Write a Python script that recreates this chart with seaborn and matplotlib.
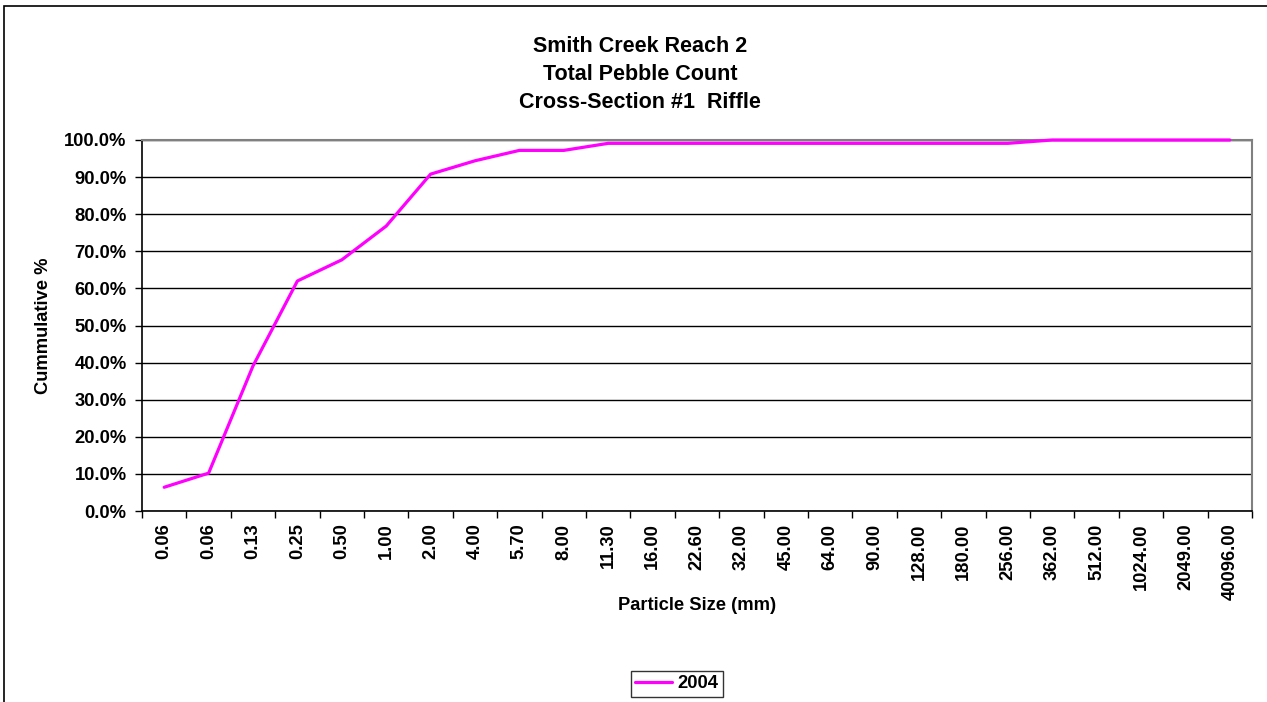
import numpy as np
import pandas as pd
import matplotlib
matplotlib.use("Agg")
import matplotlib.pyplot as plt
import seaborn as sns
from matplotlib.patches import Rectangle

# ---- data ----
size_labels = ["0.06", "0.06", "0.13", "0.25", "0.50", "1.00", "2.00", "4.00", "5.70", "8.00",
               "11.30", "16.00", "22.60", "32.00", "45.00", "64.00", "90.00", "128.00", "180.00",
               "256.00", "362.00", "512.00", "1024.00", "2049.00", "40096.00"]
cumulative_pct = [6.4, 10.2, 39.1, 62.0, 67.7, 76.8, 90.8, 94.4, 97.2, 97.2,
                  99.1, 99.1, 99.1, 99.1, 99.1, 99.1, 99.1, 99.1, 99.1, 99.1,
                  100.0, 100.0, 100.0, 100.0, 100.0]
series_name = "2004"
title_lines = ["Smith Creek Reach 2", "Total Pebble Count", "Cross-Section #1  Riffle"]
y_ticks = [0, 10, 20, 30, 40, 50, 60, 70, 80, 90, 100]

sns.set_theme(style="white")
plt.rcParams["font.family"] = ["Liberation Sans", "DejaVu Sans"]
plt.rcParams["font.weight"] = "bold"
for k in ["text.color", "axes.labelcolor", "xtick.color", "ytick.color"]:
    plt.rcParams[k] = "black"

W, H = 1267, 702
fig = plt.figure(figsize=(W / 100, H / 100), dpi=100)
fig.patch.set_facecolor("white")

L, R, T, B = 142, 1252, 140, 511
ax = fig.add_axes([L / W, 1 - B / H, (R - L) / W, (B - T) / H])

df = pd.DataFrame({"idx": np.arange(len(size_labels)), "pct": cumulative_pct, "series": series_name})
sns.lineplot(data=df, x="idx", y="pct", hue="series", palette=["#FF00FF"], linewidth=2.3,
             ax=ax, legend=False)
for ln in ax.lines:
    ln.set_zorder(4)
    ln.set_clip_on(False)

ax.set_xlim(-0.5, len(size_labels) - 0.5)
ax.set_ylim(0, 100)

# grid
ax.set_yticks(y_ticks)
ax.set_yticklabels([f"{v:.1f}%" for v in y_ticks], fontsize=13.2, fontweight="bold")
ax.yaxis.grid(True, color="black", linewidth=1.0)
ax.xaxis.grid(False)
ax.set_axisbelow(True)

# x ticks at boundaries, labels at centers
ax.set_xticks(np.arange(-0.5, len(size_labels), 1.0))
ax.set_xticklabels([])
ax.set_xticks(np.arange(len(size_labels)), minor=True)
ax.set_xticklabels(size_labels, minor=True, rotation=90, fontsize=13.2, fontweight="bold")
ax.tick_params(axis="x", which="major", direction="out", length=5, width=1, color="black", bottom=True)
ax.tick_params(axis="x", which="minor", length=0, pad=9, bottom=True)
ax.tick_params(axis="y", direction="out", length=5, width=1, color="black", pad=6, left=True)

for s in ["left", "bottom"]:
    ax.spines[s].set_color("black")
    ax.spines[s].set_linewidth(1.2)
for s in ["top", "right"]:
    ax.spines[s].set_color("#808080")
    ax.spines[s].set_linewidth(1.5)

ax.set_xlabel("Particle Size (mm)", fontsize=13.2, fontweight="bold")
ax.xaxis.set_label_coords(0.5, (B - 606) / (B - T))
ax.xaxis.label.set_va("center")
ax.set_ylabel("Cummulative %", fontsize=13.2, fontweight="bold")
ax.yaxis.set_label_coords((43 - L) / (R - L), (B - 326) / (B - T))
ax.yaxis.label.set_va("center")

# title
for i, line in enumerate(title_lines):
    fig.text(640 / W, 1 - (46 + 28 * i) / H, line, ha="center", va="center",
             fontsize=15.5, fontweight="bold")

# legend
handle = plt.Line2D([], [], color="#FF00FF", linewidth=2.3)
leg = fig.legend([handle], [series_name], loc="center", bbox_to_anchor=(677 / W, 1 - 684 / H),
                 frameon=True, fancybox=False, edgecolor="black", handlelength=2.0,
                 handletextpad=0.3, borderpad=0.25, prop={"size": 13.2, "weight": "bold"})
leg.get_frame().set_linewidth(1.0)

# chart area border
fig.patches.append(Rectangle((4 / W, -0.1), 1.2, 1.1 - 6 / H, transform=fig.transFigure,
                             fill=False, edgecolor="black", linewidth=1.2, zorder=0))

fig.savefig("out.png", dpi=100, facecolor="white")
